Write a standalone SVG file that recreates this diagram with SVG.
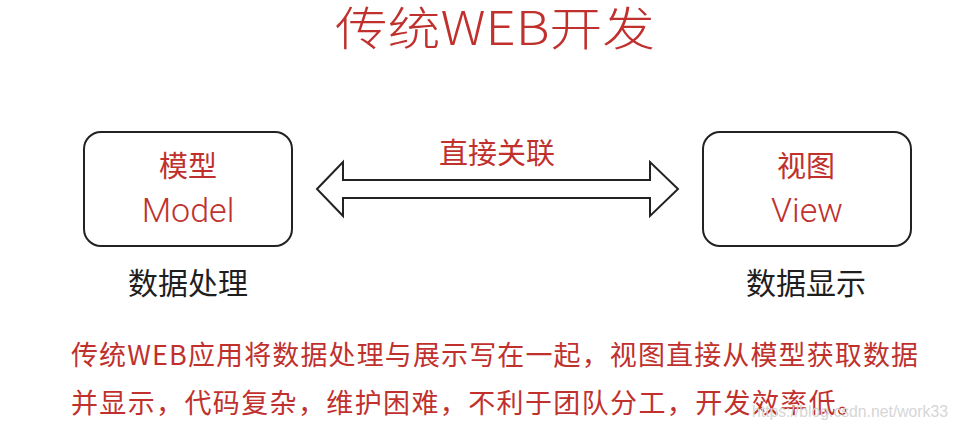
<svg xmlns="http://www.w3.org/2000/svg" width="956" height="436" viewBox="0 0 956 436">
<style>
.red{fill:#c0312e;font-family:"Noto Sans CJK SC","Noto Sans",sans-serif;}
.dark{fill:#1e1e1e;font-family:"Noto Sans CJK SC","Noto Sans",sans-serif;}
.lat{font-family:Roboto,"Liberation Sans","Noto Sans CJK SC",sans-serif;font-weight:300;}
.box{fill:#ffffff;stroke:#222222;stroke-width:2;}
</style>
<rect width="956" height="436" fill="#ffffff"/>
<g id="title">
<text class="red" x="335" y="45" font-size="46" font-weight="300" textLength="320" lengthAdjust="spacingAndGlyphs">传统WEB开发</text>
</g>
<g id="model">
<rect class="box" x="84" y="132" width="208" height="114" rx="17"/>
<text class="red" x="188" y="177" font-size="29" text-anchor="middle">模型</text>
<text class="red lat" x="188" y="222" font-size="34" text-anchor="middle">Model</text>
<text class="dark" x="188" y="294" font-size="30" text-anchor="middle">数据处理</text>
</g>
<g id="view">
<rect class="box" x="703" y="132" width="208" height="114" rx="17"/>
<text class="red" x="806" y="177" font-size="29" text-anchor="middle">视图</text>
<text class="red lat" x="807" y="222" font-size="34" text-anchor="middle">View</text>
<text class="dark" x="806" y="294" font-size="30" text-anchor="middle">数据显示</text>
</g>
<g id="connectors">
<polygon class="box" points="317,189 343,162 343,180 650,180 650,162 678,189 650,216 650,198 343,198 343,216"/>
<text class="red" x="497" y="164" font-size="29" text-anchor="middle">直接关联</text>
</g>
<g id="description">
<text class="red" x="71" y="365" font-size="27" textLength="847" lengthAdjust="spacing">传统WEB应用将数据处理与展示写在一起，视图直接从模型获取数据</text>
<text class="red" x="71" y="413" font-size="27" textLength="793" lengthAdjust="spacing">并显示，代码复杂，维护困难，不利于团队分工，开发效率低。</text>
</g>
<g id="watermark">
<text x="752" y="417" font-size="17" fill="#d6d6d6" font-family="Liberation Sans,sans-serif" textLength="196" lengthAdjust="spacingAndGlyphs">https://blog.csdn.net/work33</text>
</g>
</svg>
